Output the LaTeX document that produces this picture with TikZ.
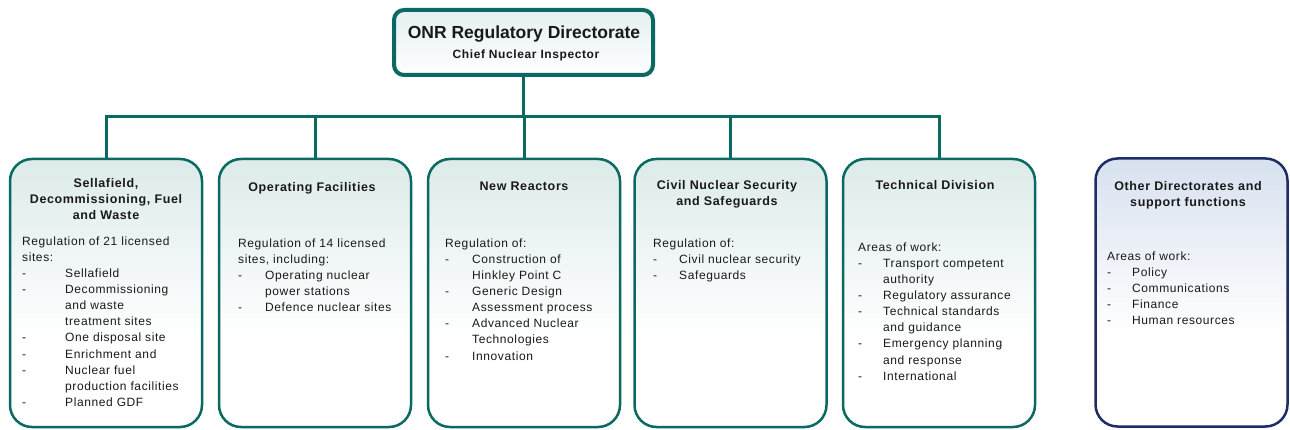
\documentclass[tikz,border=0pt]{standalone}
\usepackage{fontspec}
\setmainfont{Liberation Sans}
\newfontfamily\spacedfont[LetterSpace=5]{Liberation Sans}
\definecolor{tealc}{RGB}{10,105,97}
\definecolor{tealtop}{RGB}{220,235,233}
\definecolor{headtop}{RGB}{228,240,239}
\definecolor{navyc}{RGB}{30,44,100}
\definecolor{navytop}{RGB}{216,225,240}
\definecolor{txt}{RGB}{25,25,25}
\pgfdeclareverticalshading{tealfade}{100bp}{color(0bp)=(white); color(25bp)=(white); color(42bp)=(white); color(75bp)=(tealtop); color(100bp)=(tealtop)}
\pgfdeclareverticalshading{navyfade}{100bp}{color(0bp)=(white); color(25bp)=(white); color(42bp)=(white); color(75bp)=(navytop); color(100bp)=(navytop)}
\pgfdeclareverticalshading{headfade}{100bp}{color(0bp)=(white); color(25bp)=(white); color(75bp)=(headtop); color(100bp)=(headtop)}
\newcommand{\dashitem}[2]{\makebox[#1][l]{-}#2}
\newcommand{\dashcont}[2]{\hspace*{#1}#2}
\tikzset{
  unitbox/.style={draw=tealc, line width=2.5pt, rounded corners=22pt, shading=tealfade, minimum width=192pt, minimum height=268pt, inner sep=0pt},
  otherbox/.style={unitbox, draw=navyc, shading=navyfade},
  headbox/.style={draw=tealc, line width=4pt, rounded corners=10pt, shading=headfade, minimum width=259pt, minimum height=65pt, inner sep=0pt},
  conn/.style={draw=tealc, line width=3pt},
  ttl/.style={anchor=north, align=center, inner sep=0pt, text=txt, font=\spacedfont\bfseries\fontsize{12.5}{16}\selectfont},
  bodytxt/.style={anchor=north west, align=left, inner sep=0pt, text=txt, font=\spacedfont\fontsize{12}{16.1}\selectfont},
}
\begin{document}
\begin{tikzpicture}[x=1pt,y=-1pt]
\useasboundingbox (0,0) rectangle (1290,430);
% boxes
\node[headbox] (head) at (523.5,42.5) {};
\node[unitbox] (b1) at (106,293) {};
\node[unitbox] (b2) at (315,293) {};
\node[unitbox] (b3) at (524,293) {};
\node[unitbox] (b4) at (730.5,293) {};
\node[unitbox] (b5) at (939,293) {};
\node[otherbox] (b6) at (1191.5,292.5) {};
% connectors
\coordinate (bus) at (0,117);
\draw[conn] (head.south) -- (head.south |- bus);
\draw[conn] (b1.north) -- (b1.north |- bus) -- (b5.north |- bus) -- (b5.north);
\draw[conn] (b2.north |- bus) -- (b2.north);
\draw[conn] (b3.north |- bus) -- (b3.north);
\draw[conn] (b4.north |- bus) -- (b4.north);
% head text
\node[anchor=north, inner sep=0pt, text=txt, font=\bfseries\fontsize{17.5}{20}\selectfont] (headt) at (524,25.5) {ONR Regulatory Directorate};
\node[anchor=north, inner sep=0pt, text=txt, font=\spacedfont\bfseries\fontsize{12}{15}\selectfont] (heads) at (526,49.5) {Chief Nuclear Inspector};
% titles
\node[ttl] (t1) at (106,178) {Sellafield,\\Decommissioning, Fuel\\and Waste};
\node[ttl] (t2) at (312,182) {Operating Facilities};
\node[ttl] (t3) at (524,182) {New Reactors};
\node[ttl] (t4) at (727,180) {Civil Nuclear Security\\and Safeguards};
\node[ttl] (t5) at (935,180) {Technical Division};
\node[ttl] (t6) at (1188,181) {Other Directorates and\\support functions};
% bodies
\node[bodytxt] (d1) at (22,236.5) {Regulation of 21 licensed\\sites:\\
\dashitem{43pt}{Sellafield}\\
\dashitem{43pt}{Decommissioning}\\
\dashcont{43pt}{and waste}\\
\dashcont{43pt}{treatment sites}\\
\dashitem{43pt}{One disposal site}\\
\dashitem{43pt}{Enrichment and}\\
\dashitem{43pt}{Nuclear fuel}\\
\dashcont{43pt}{production facilities}\\
\dashitem{43pt}{Planned GDF}};
\node[bodytxt] (d2) at (238,238.5) {Regulation of 14 licensed\\sites, including:\\
\dashitem{27pt}{Operating nuclear}\\
\dashcont{27pt}{power stations}\\
\dashitem{27pt}{Defence nuclear sites}};
\node[bodytxt] (d3) at (445,238.5) {Regulation of:\\
\dashitem{27pt}{Construction of}\\
\dashcont{27pt}{Hinkley Point C}\\
\dashitem{27pt}{Generic Design}\\
\dashcont{27pt}{Assessment process}\\
\dashitem{27pt}{Advanced Nuclear}\\
\dashcont{27pt}{Technologies}\\
\dashitem{27pt}{Innovation}};
\node[bodytxt] (d4) at (653,238.5) {Regulation of:\\
\dashitem{26pt}{Civil nuclear security}\\
\dashitem{26pt}{Safeguards}};
\node[bodytxt] (d5) at (858,242.5) {Areas of work:\\
\dashitem{25pt}{Transport competent}\\
\dashcont{25pt}{authority}\\
\dashitem{25pt}{Regulatory assurance}\\
\dashitem{25pt}{Technical standards}\\
\dashcont{25pt}{and guidance}\\
\dashitem{25pt}{Emergency planning}\\
\dashcont{25pt}{and response}\\
\dashitem{25pt}{International}};
\node[bodytxt] (d6) at (1107,251.5) {Areas of work:\\
\dashitem{25pt}{Policy}\\
\dashitem{25pt}{Communications}\\
\dashitem{25pt}{Finance}\\
\dashitem{25pt}{Human resources}};
\end{tikzpicture}
\end{document}
